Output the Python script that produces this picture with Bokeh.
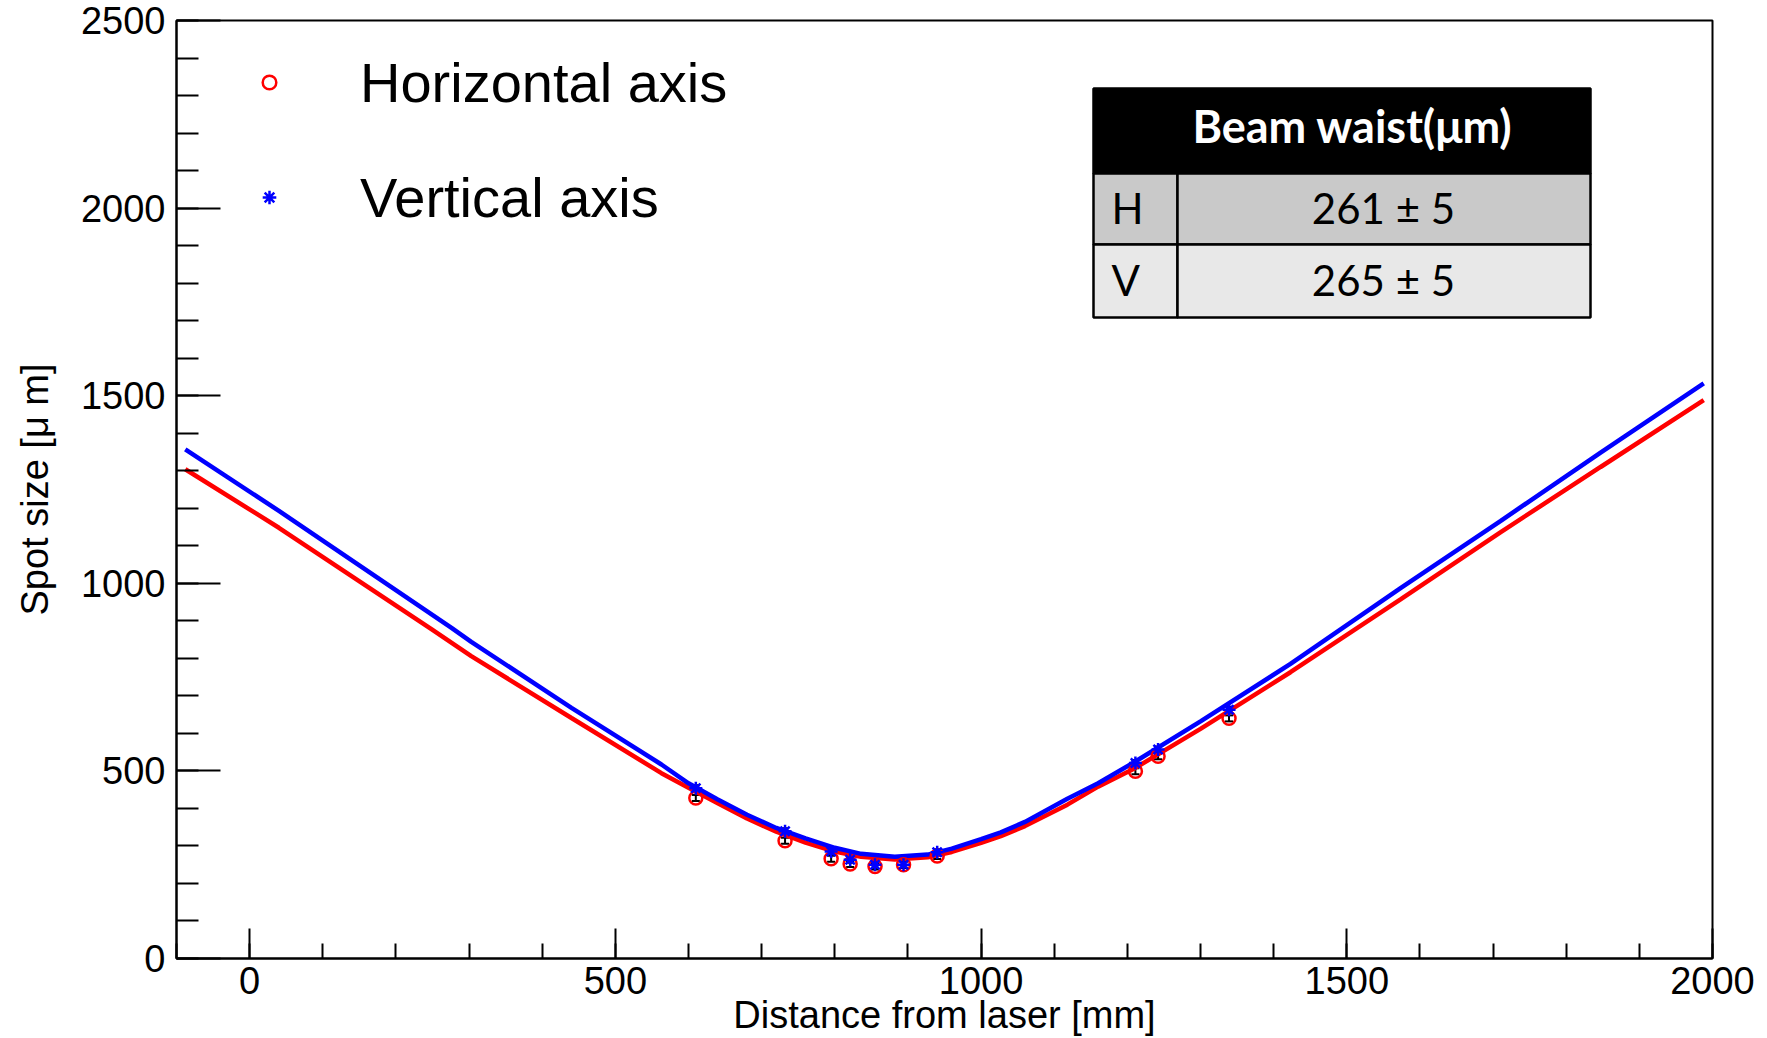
from bokeh.plotting import figure
from bokeh.models import (ColumnDataSource, Range1d, SingleIntervalTicker, Legend, LegendItem,
                          BoxAnnotation, Label, Whisker, TeeHead)
from bokeh.embed import file_html
from bokeh.resources import INLINE

# ---------------- data ----------------
dist_mm = [610, 732, 795, 821, 855, 894, 940, 1211, 1242, 1339]
spot_h = [428, 314, 266, 252, 245, 250, 273, 499, 539, 640]
spot_v = [454, 339, 285, 263, 250, 250, 283, 521, 557, 663]
err_h = [8, 8, 8, 8, 8, 8, 8, 8, 8, 8]
err_v = [8, 8, 8, 8, 8, 8, 8, 8, 8, 8]

fit_h_z = [-88, 40, 249, 303, 440, 563, 600, 640, 680, 720, 760, 800, 836, 882, 927, 960, 1000, 1027, 1060, 1118, 1160, 1211, 1300, 1423, 1574, 1710, 1847, 1988]
fit_h_s = [1304, 1148, 877, 806, 641, 494, 455, 414, 373, 338, 309, 285, 271, 264, 270, 284, 308, 326, 353, 410, 458, 508, 612, 763, 958, 1136, 1310, 1488]
fit_v_z = [-88, 40, 276, 303, 440, 563, 600, 640, 680, 720, 760, 800, 836, 882, 927, 960, 1000, 1027, 1060, 1118, 1160, 1211, 1300, 1423, 1574, 1710, 1847, 1988]
fit_v_s = [1357, 1193, 881, 844, 668, 517, 467, 424, 383, 348, 320, 295, 279, 271, 277, 293, 318, 336, 364, 426, 467, 525, 632, 785, 988, 1166, 1348, 1533]

legend_labels = ["Horizontal axis", "Vertical axis"]
table_title = "Beam waist(\u03bcm)"
table_rows = ["H", "V"]
table_vals = ["261 \u00b1 5", "265 \u00b1 5"]

x_ticks_interval = 500
y_ticks_interval = 500

# ---------------- layout ----------------
W, H = 1767, 1038
FL, FR, FT, FB = 176, 1712, 20, 958
X0, X1, Y0, Y1 = -100, 2000, 0, 2500
SX = (FR - FL) / (X1 - X0)
SY = (FB - FT) / (Y1 - Y0)


def dx(px):
    return X0 + (px - FL) / SX


def dy(py):
    return Y0 + (FB - py) / SY


AXFONT = "Liberation Sans"
TFONT = "Lato"

p = figure(width=W, height=H, x_range=Range1d(X0, X1), y_range=Range1d(Y0, Y1),
           output_backend="svg", toolbar_location=None,
           min_border_left=FL, min_border_right=W - FR, min_border_top=FT, min_border_bottom=H - FB)
p.background_fill_color = "white"
p.border_fill_color = "white"
p.xgrid.visible = False
p.ygrid.visible = False
p.outline_line_color = "black"
p.outline_line_width = 2
p.outline_line_alpha = 1

for ax, tin, tmin in ((p.xaxis[0], 30, 15), (p.yaxis[0], 44, 22)):
    ax.axis_line_width = 2
    ax.axis_line_color = "black"
    ax.major_tick_in = tin
    ax.major_tick_out = 0
    ax.minor_tick_in = tmin
    ax.minor_tick_out = 0
    ax.major_tick_line_width = 2
    ax.minor_tick_line_width = 2
    ax.major_tick_line_color = "black"
    ax.minor_tick_line_color = "black"
    ax.major_label_text_font = AXFONT
    ax.major_label_text_font_size = "38px"
    ax.major_label_text_color = "black"
    ax.axis_label_text_font = AXFONT
    ax.axis_label_text_font_size = "38px"
    ax.axis_label_text_font_style = "normal"
    ax.axis_label_text_color = "black"

p.xaxis.ticker = SingleIntervalTicker(interval=x_ticks_interval, num_minor_ticks=5)
p.yaxis.ticker = SingleIntervalTicker(interval=y_ticks_interval, num_minor_ticks=5)
p.xaxis.major_label_standoff = 8
p.yaxis.major_label_standoff = 11

p.yaxis.axis_label = "Spot size [\u03bc m]"
p.yaxis.axis_label_standoff = 22
p.xaxis.axis_label = "Distance from laser [mm]"
p.xaxis.axis_label_standoff = -3

# ---------------- fits ----------------
p.line(fit_h_z, fit_h_s, line_color="#ff0000", line_width=4.5)
p.line(fit_v_z, fit_v_s, line_color="#0000ff", line_width=4.5)

# ---------------- measured points ----------------
src = ColumnDataSource(dict(
    x=dist_mm, h=spot_h, v=spot_v,
    h_lo=[a - e for a, e in zip(spot_h, err_h)], h_hi=[a + e for a, e in zip(spot_h, err_h)],
    v_lo=[a - e for a, e in zip(spot_v, err_v)], v_hi=[a + e for a, e in zip(spot_v, err_v)],
))
r_h = p.scatter("x", "h", source=src, marker="circle", size=13, fill_color=None,
                line_color="#ff0000", line_width=2.5)
r_v = p.scatter("x", "v", source=src, marker="asterisk", size=13,
                line_color="#0000ff", line_width=2.5)
for lo, hi in (("h_lo", "h_hi"), ("v_lo", "v_hi")):
    p.add_layout(Whisker(source=src, base="x", lower=lo, upper=hi, line_color="black", line_width=2,
                         upper_head=TeeHead(size=8, line_color="black", line_width=2),
                         lower_head=TeeHead(size=8, line_color="black", line_width=2)))

# ---------------- legend ----------------
legend = Legend(items=[LegendItem(label=legend_labels[0], renderers=[r_h]),
                       LegendItem(label=legend_labels[1], renderers=[r_v])],
                location=(76, FB - 232), orientation="vertical",
                glyph_width=34, glyph_height=34, label_height=70, spacing=45,
                label_standoff=74, padding=0, margin=0,
                label_text_font=AXFONT, label_text_font_size="56px", label_text_color="black",
                background_fill_alpha=0, border_line_alpha=0)
p.add_layout(legend)

# ---------------- table ----------------
TL, TD, TR = 1093, 1177, 1590
TT, THB, TR1, TR2 = 88, 173, 244, 317
cells = [
    (TL, TR, TT, THB, "black"),
    (TL, TD, THB, TR1, "#c9c9c9"),
    (TD, TR, THB, TR1, "#c9c9c9"),
    (TL, TD, TR1, TR2, "#e8e8e8"),
    (TD, TR, TR1, TR2, "#e8e8e8"),
]
for l, r, t, b, c in cells:
    p.add_layout(BoxAnnotation(left=dx(l), right=dx(r), top=dy(t), bottom=dy(b),
                               fill_color=c, fill_alpha=1, line_color="black", line_width=2.5,
                               line_alpha=1))

p.add_layout(Label(x=dx(1352), y=dy(125), text=table_title, text_font=TFONT,
                   text_font_size="45px", text_font_style="bold", text_color="white",
                   text_align="center", text_baseline="alphabetic"))
for i, (name, val) in enumerate(zip(table_rows, table_vals)):
    base = [207, 279][i]
    p.add_layout(Label(x=dx(1111), y=dy(base), text=name, text_font=TFONT,
                       text_font_size="42px", text_color="black", text_align="left",
                       text_baseline="alphabetic"))
    p.add_layout(Label(x=dx(1383), y=dy(base), text=val, text_font=TFONT,
                       text_font_size="42px", text_color="black", text_align="center",
                       text_baseline="alphabetic"))

open("out.html", "w").write(file_html(p, INLINE))
